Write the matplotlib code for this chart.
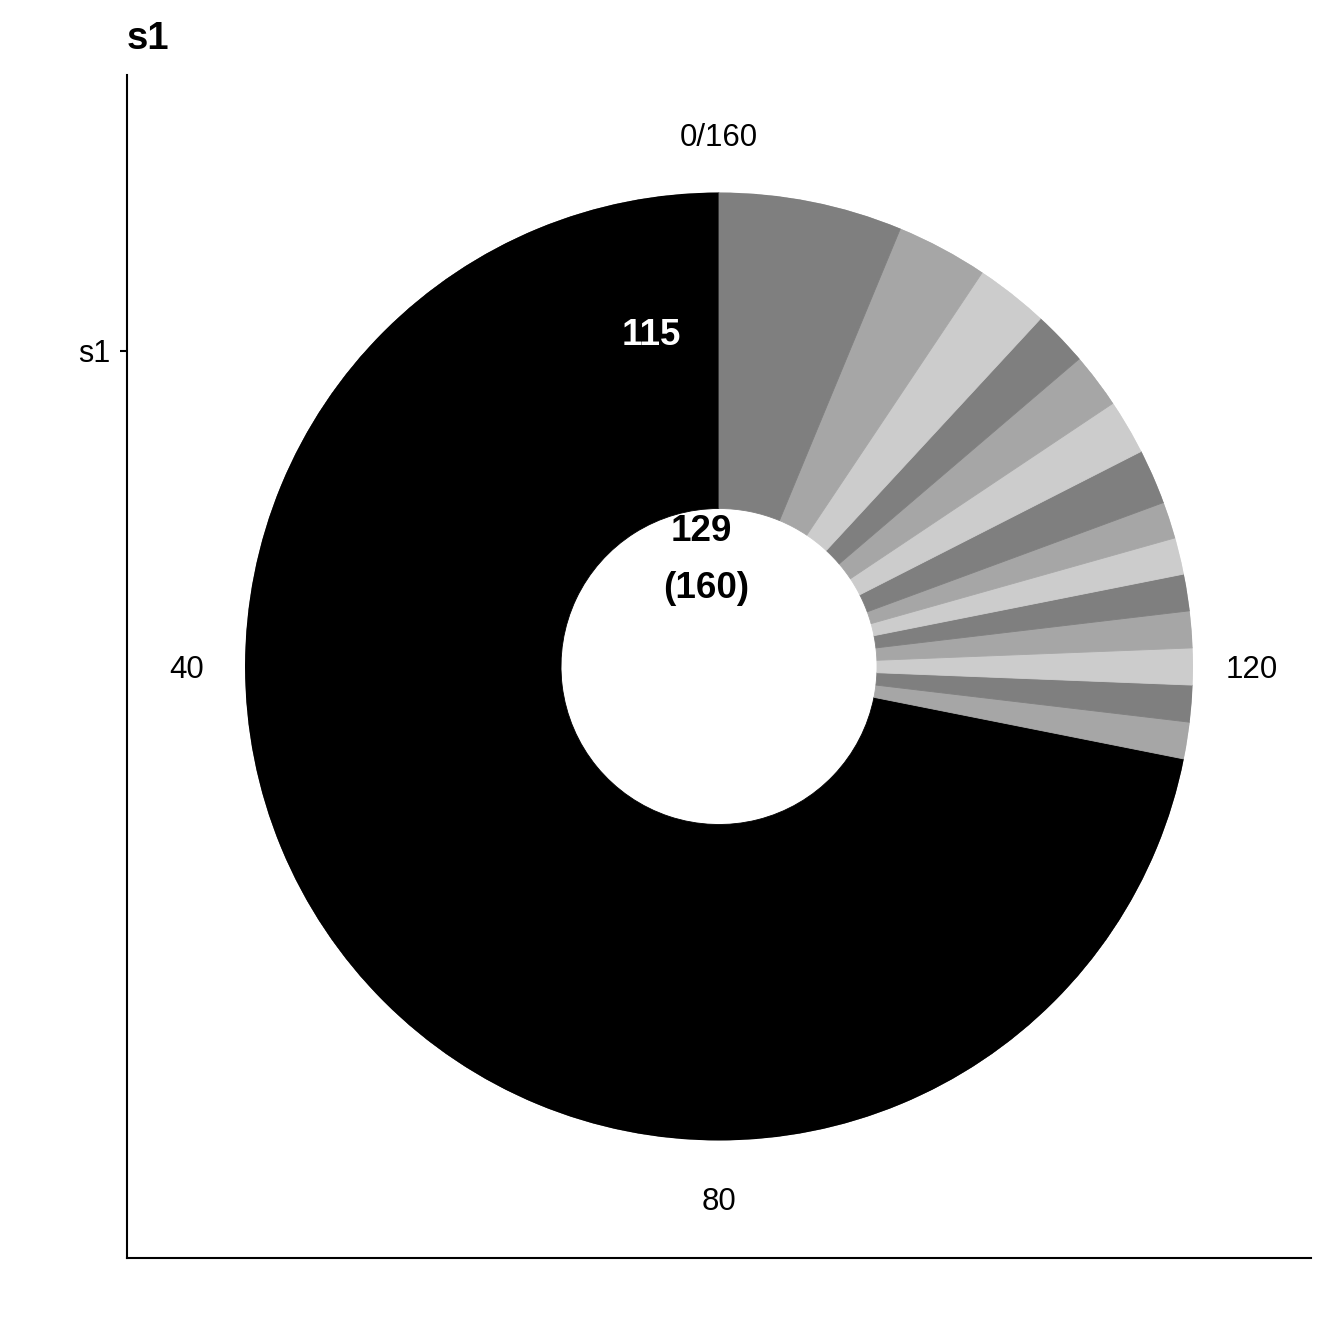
import numpy as np
import matplotlib
matplotlib.use("Agg")
import matplotlib.pyplot as plt
import matplotlib.transforms as mtransforms

plt.rcParams['font.family'] = ['Liberation Sans', 'DejaVu Sans']

# ---- data ----
categories = ["s1"]
segment_values = [115, 2, 2, 2, 2, 2, 2, 2, 3, 3, 3, 3, 4, 5, 10]
segment_colors = ["#000000",
                  "#A6A6A6", "#7F7F7F", "#CCCCCC",
                  "#A6A6A6", "#7F7F7F", "#CCCCCC",
                  "#A6A6A6", "#7F7F7F", "#CCCCCC",
                  "#A6A6A6", "#7F7F7F", "#CCCCCC",
                  "#A6A6A6", "#7F7F7F"]
total = 160
theta_ticks = [0, 40, 80, 120]
theta_tick_labels = ["0/160", "40", "80", "120"]
segment_label = "115"
center_top = "129"
center_bottom = "(160)"
title = "s1"

# ---- layout (pixels) ----
W = H = 1344
fig = plt.figure(figsize=(W / 100, H / 100), dpi=100)
fig.patch.set_facecolor("white")

pl, pr, pt, pb = 127, 1311, 75, 1258
cx, cy = (pl + pr) / 2, (pt + pb) / 2
unit = 158.0  # pixels per radial unit
outer = 3 * unit
dy = -3.5  # vertical text nudge in pixels

ax = fig.add_axes([pl / W, (H - pb) / H, (pr - pl) / W, (pb - pt) / H])
ax.set_xlim(-(pr - pl) / 2 / unit, (pr - pl) / 2 / unit)
ax.set_ylim(-(pb - pt) / 2 / unit, (pb - pt) / 2 / unit)
for s in ["top", "right"]:
    ax.spines[s].set_visible(False)
for s in ["left", "bottom"]:
    ax.spines[s].set_linewidth(1.5)
ax.set_xticks([])
ax.set_yticks([2])
ax.set_yticklabels(categories)
ax.tick_params(axis="y", length=5, width=1.5, pad=7, labelsize=22)
ax.patch.set_visible(False)

tr_ax = mtransforms.offset_copy(ax.transData, fig=fig, y=dy, units="dots")
ax.text(-0.11, 0.877, center_top, ha="center", va="center", transform=tr_ax,
        fontsize=26.5, fontweight="bold", color="black")
ax.text(-0.078, 0.516, center_bottom, ha="center", va="center", transform=tr_ax,
        fontsize=26.5, fontweight="bold", color="black")

pax = fig.add_axes([(cx - outer) / W, (H - cy - outer) / H, 2 * outer / W, 2 * outer / H],
                   projection="polar")
pax.set_theta_zero_location("N")
pax.set_theta_direction(1)
pax.set_ylim(0, 3)
pax.set_axis_off()

vals = np.array(segment_values, dtype=float)
starts = np.concatenate([[0], np.cumsum(vals)[:-1]])
to_rad = 2 * np.pi / total
pax.bar(starts * to_rad, [2] * len(vals), width=vals * to_rad, bottom=1,
        align="edge", color=segment_colors, edgecolor=segment_colors, linewidth=0.6)

tr_p = mtransforms.offset_copy(pax.transData, fig=fig, y=dy, units="dots")
for v, lab in zip(theta_ticks, theta_tick_labels):
    pax.text(v * to_rad, 3.37, lab, ha="center", va="center", fontsize=22.5,
             color="black", clip_on=False, transform=tr_p)

pax.text(5.06 * to_rad, 2.16, segment_label, ha="center", va="center", transform=tr_p,
         fontsize=26.5, fontweight="bold", color="white")

fig.text(pl / W, (H - 49) / H, title, ha="left", va="baseline",
         fontsize=27.5, fontweight="bold")

fig.savefig("out.png", dpi=100)
